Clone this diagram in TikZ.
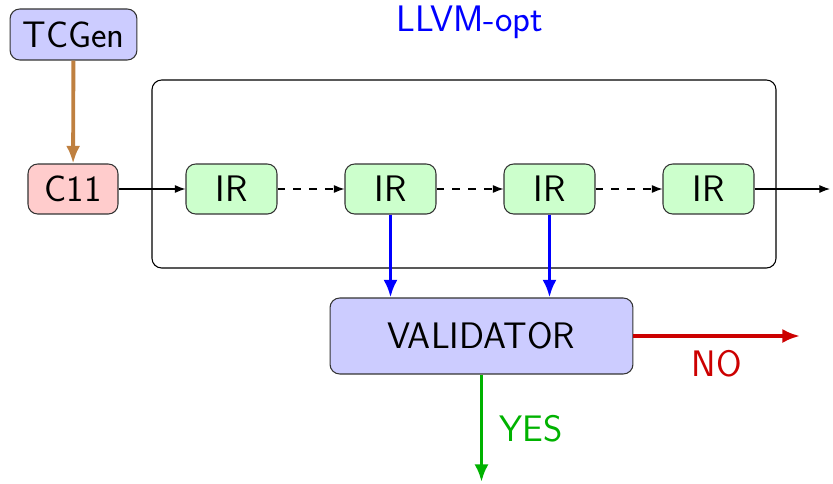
\documentclass[tikz,border=0pt]{standalone}
\usetikzlibrary{arrows.meta}
\begin{document}
\begin{tikzpicture}[x=0.02cm, y=-0.02cm, font=\sffamily\fontsize{21}{25}\selectfont,
  box/.style = {draw=black!80, line width=0.6pt, rounded corners=5.5pt, minimum height=1cm, inner xsep=7pt},
  ir/.style = {box, fill=green!20, minimum width=1.82cm},
  link/.style = {-{Latex[length=6pt,width=4.5pt]}, line width=0.6pt},
  flow/.style = {-{Latex[length=10pt,width=8pt]}, line width=2.2pt},
  lbl/.style = {inner sep=2pt}]
  \useasboundingbox (0,0) rectangle (833,484);
  \node[box, fill=blue!20, minimum height=1.02cm] (gen) at (73.5,34.5) {TCGen};
  \node[box, fill=red!20, minimum width=1.8cm] (c11) at (73,189) {C11};
  \draw[rounded corners=5.5pt, line width=0.6pt] (152,80) rectangle (776,268);
  \node[blue, lbl] (opt) at (470,22) {LLVM-opt};
  \node[ir] (1) at (231.5,189) {IR};
  \node[ir] (2) at (390.5,189) {IR};
  \node[ir] (3) at (549.5,189) {IR};
  \node[ir] (4) at (708.5,189) {IR};
  \node[box, fill=blue!20, minimum width=6.06cm, minimum height=1.52cm] (val) at (481.5,336) {VALIDATOR};
  \coordinate (out) at (830,189);
  \coordinate (no) at (800,336);
  \coordinate (yes) at (481.5,482);
  \draw[flow, brown] (gen) -- (c11);
  \draw[link] (c11) -- (1);
  \draw[link, dash pattern=on 4.5pt off 4.5pt] (1) -- (2);
  \draw[link, dash pattern=on 4.5pt off 4.5pt] (2) -- (3);
  \draw[link, dash pattern=on 4.5pt off 4.5pt] (3) -- (4);
  \draw[link] (4) -- (out);
  \draw[flow, blue] (2) -- (2 |- val.north);
  \draw[flow, blue] (3) -- (3 |- val.north);
  \draw[flow, red!80!black] (val) -- node[lbl, below=5pt] {NO} (no);
  \draw[flow, green!70!black] (val) -- node[lbl, right=7pt] {YES} (yes);
\end{tikzpicture}
\end{document}
